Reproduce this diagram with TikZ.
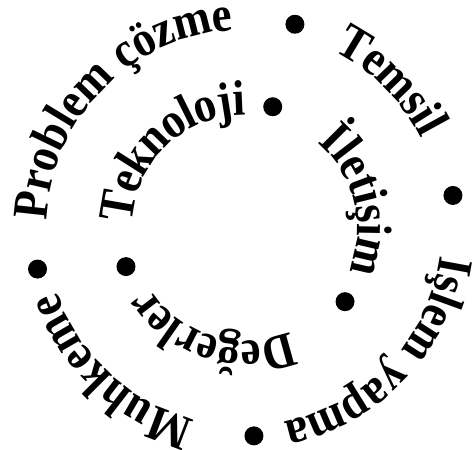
\documentclass[tikz,border=0pt]{standalone}
\usepackage{fontspec}
\setmainfont{Liberation Serif}[FakeStretch=0.9, BoldFeatures={FakeStretch=0.9}]
\usetikzlibrary{decorations.text}
\begin{document}
\begin{tikzpicture}[x=1pt,y=1pt,
  arctext/.style={decoration={text along path, text format delimiters={|}{|},
      text={|\fontsize{50}{54}\selectfont\bfseries|#1}, raise=-12pt, text align={fit to path}}, decorate},
  bigdot/.style={fill=black}]
\useasboundingbox (0,0) rectangle (473,449);
\coordinate (c) at (244.5,220.9);
% outer ring
\path[arctext={Problem çözme}] ([shift={(177.5:210)}]c) arc[start angle=177.5, end angle=93.5, radius=210];
\path[arctext={Temsil}] ([shift={(63:210)}]c) arc[start angle=63, end angle=27, radius=210];
\path[arctext={İşlem yapma}] ([shift={(-8:210)}]c) arc[start angle=-8, end angle=-78.5, radius=210];
\path[arctext={Muhkeme}] ([shift={(255:210)}]c) arc[start angle=255, end angle=199, radius=210];
% inner ring
\path[arctext={Teknoloji}] ([shift={(177:124.6)}]c) arc[start angle=177, end angle=89.7, radius=124.6];
\path[arctext={İletişim}] ([shift={(49:124.6)}]c) arc[start angle=49, end angle=-21.7, radius=124.6];
\path[arctext={Değerler}] ([shift={(293:124.6)}]c) arc[start angle=293, end angle=212.8, radius=124.6];
% dots
\fill[bigdot] ([shift={(76.1:210)}]c) circle[radius=9.5];
\fill[bigdot] ([shift={(8.9:211)}]c) circle[radius=9.5];
\fill[bigdot] ([shift={(272.6:208)}]c) circle[radius=9.5];
\fill[bigdot] ([shift={(191.2:211)}]c) circle[radius=9.5];
\fill[bigdot] ([shift={(76.9:124.6)}]c) circle[radius=9.5];
\fill[bigdot] ([shift={(-36.2:124.6)}]c) circle[radius=9.5];
\fill[bigdot] ([shift={(198:124.6)}]c) circle[radius=9.5];
\end{tikzpicture}
\end{document}
